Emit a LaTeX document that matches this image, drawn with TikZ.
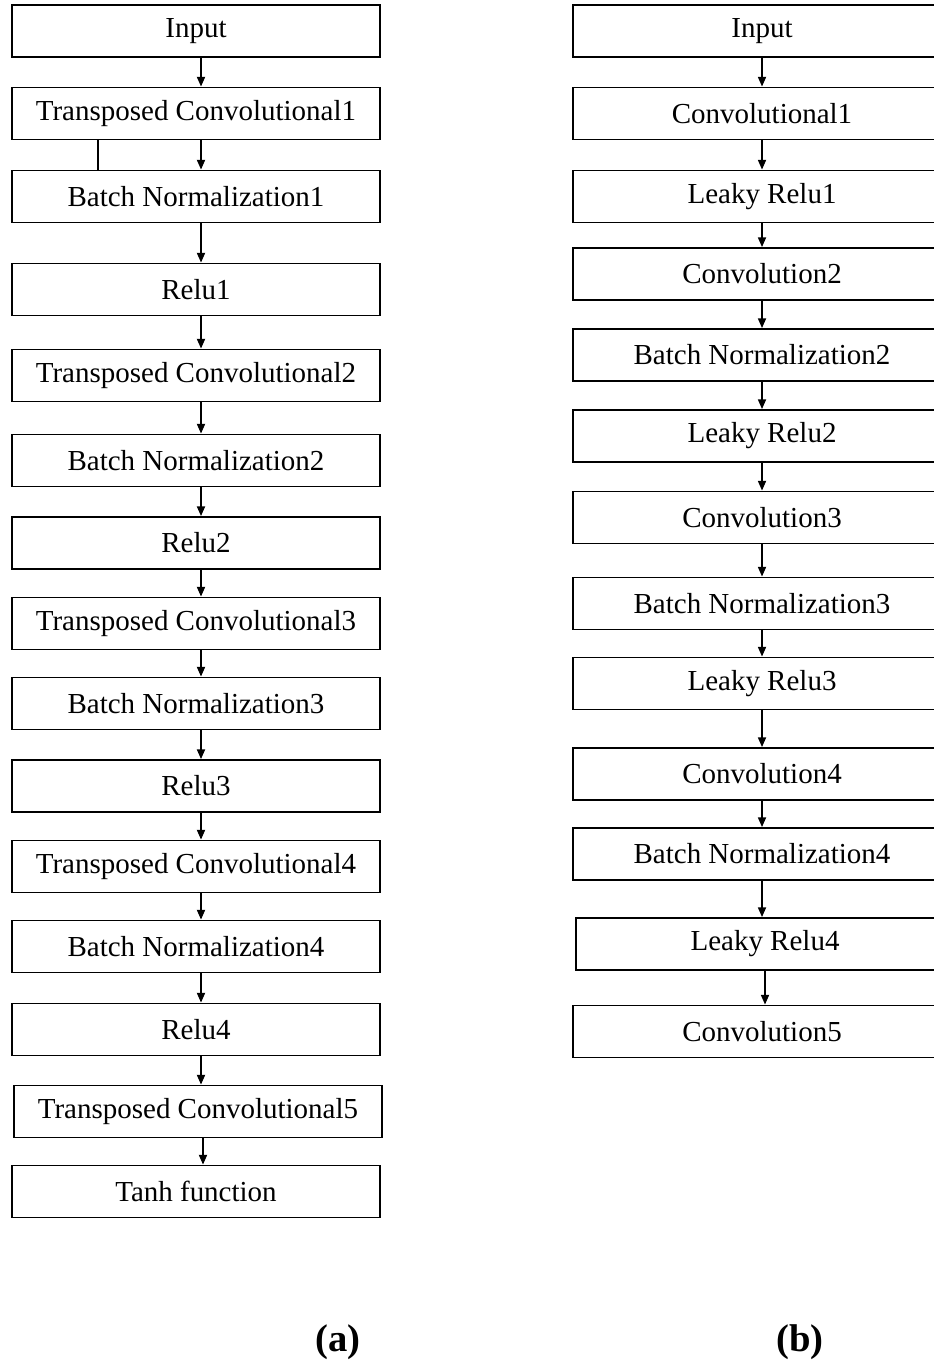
\documentclass[tikz,border=0pt]{standalone}
\usepackage{fontspec}
\setmainfont{Liberation Serif}
\usetikzlibrary{arrows.meta}

\begin{document}
\begin{tikzpicture}[x=0.02cm, y=-0.02cm, line width=1.1pt,
    every node/.style={rectangle, draw, minimum height=1.04cm, inner sep=0pt, font=\fontsize{16.5}{18}\selectfont},
    lyra/.style={minimum width=7.36cm},
    lyrb/.style={minimum width=7.56cm},
    flow/.style={->, line width=0.85pt},
    >={Triangle[length=5.5pt, width=4.6pt]}]
    \useasboundingbox (0, 0) rectangle (933, 1364);

    % Generator
    \node[lyra] (ina) at (196, 31) {Input};
    \node[lyra] (tc1) at (196, 113.5) {Transposed Convolutional1};
    \node[lyra] (bn1) at (196, 196.5) {Batch Normalization1};
    \node[lyra] (re1) at (196, 289.5) {Relu1};
    \node[lyra] (tc2) at (196, 375.5) {Transposed Convolutional2};
    \node[lyra] (bn2) at (196, 460.5) {Batch Normalization2};
    \node[lyra] (re2) at (196, 543) {Relu2};
    \node[lyra] (tc3) at (196, 623.5) {Transposed Convolutional3};
    \node[lyra] (bn3) at (196, 703.5) {Batch Normalization3};
    \node[lyra] (re3) at (196, 786) {Relu3};
    \node[lyra] (tc4) at (196, 866.5) {Transposed Convolutional4};
    \node[lyra] (bn4) at (196, 946.5) {Batch Normalization4};
    \node[lyra] (re4) at (196, 1029.5) {Relu4};
    \node[lyra] (tc5) at (198, 1111.5) {Transposed Convolutional5};
    \node[lyra] (tanh) at (196, 1191.5) {Tanh function};

    \foreach \a/\b in {ina/tc1, tc1/bn1, bn1/re1, re1/tc2, tc2/bn2, bn2/re2, re2/tc3, tc3/bn3, bn3/re3, re3/tc4, tc4/bn4, bn4/re4, re4/tc5, tc5/tanh}
    \draw[flow] ([xshift=0.1cm]\a.south) -- ([xshift=0.1cm]\a.south |- \b.north);

    % stray line between tc1 and bn1
    \draw[line width=0.85pt] ([xshift=-1.96cm]tc1.south) -- ([xshift=-1.96cm]tc1.south |- bn1.north);

    % Discriminator
    \node[lyrb] (inb) at (762, 31) {Input};
    \node[lyrb] (cv1) at (762, 113.5) {Convolutional1};
    \node[lyrb] (lr1) at (762, 196.5) {Leaky Relu1};
    \node[lyrb] (cv2) at (762, 274) {Convolution2};
    \node[lyrb] (nb2) at (762, 355) {Batch Normalization2};
    \node[lyrb] (lr2) at (762, 436) {Leaky Relu2};
    \node[lyrb] (cv3) at (762, 517.5) {Convolution3};
    \node[lyrb] (nb3) at (762, 603.5) {Batch Normalization3};
    \node[lyrb] (lr3) at (762, 683.5) {Leaky Relu3};
    \node[lyrb] (cv4) at (762, 774) {Convolution4};
    \node[lyrb] (nb4) at (762, 854) {Batch Normalization4};
    \node[lyrb] (lr4) at (765, 944) {Leaky Relu4};
    \node[lyrb] (cv5) at (762, 1031.5) {Convolution5};

    \foreach \a/\b in {inb/cv1, cv1/lr1, lr1/cv2, cv2/nb2, nb2/lr2, lr2/cv3, cv3/nb3, nb3/lr3, lr3/cv4, cv4/nb4, nb4/lr4}
    \draw[flow] (\a.south) -- (\a.south |- \b.north);
    \draw[flow] (lr4.south) -- (lr4.south |- cv5.north);

    % Captions
    \node[draw=none, minimum height=0pt, font=\bfseries\fontsize{22}{26}\selectfont] (capa) at (338, 1342) {(a)};
    \node[draw=none, minimum height=0pt, font=\bfseries\fontsize{22}{26}\selectfont] (capb) at (800, 1342) {(b)};
\end{tikzpicture}
\end{document}
